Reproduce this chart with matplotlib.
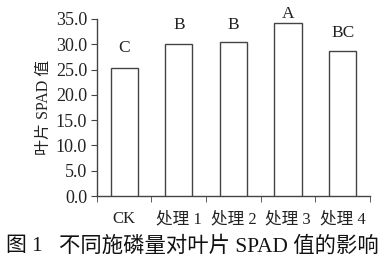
import matplotlib.pyplot as plt
import numpy as np

FONTS = ["Liberation Serif", "Noto Sans CJK SC"]
plt.rcParams["font.family"] = FONTS

categories = ["CK", "处理 1", "处理 2", "处理 3", "处理 4"]
spad = [25.2, 30.0, 30.4, 34.2, 28.6]
letters = ["C", "B", "B", "A", "BC"]
letter_y = [29.2, 33.8, 33.8, 36.0, 32.2]

fig = plt.figure(figsize=(3.89, 2.66), dpi=100)
ax = fig.add_axes([0.249, 0.263, 0.702, 0.666])

x = np.arange(len(categories))
ax.bar(x, spad, width=0.5, color="white", edgecolor="#444444", linewidth=1.0, zorder=3)

for xi, lab, ly in zip(x, letters, letter_y):
    ax.text(xi, ly, lab, ha="center", va="center", fontsize=12.5, color="#222222",
            clip_on=False)

ax.set_xlim(-0.5, len(categories) - 0.5)
ax.set_ylim(0, 35)
ax.set_yticks(np.arange(0, 36, 5))
ax.set_yticklabels([f"{v:.1f}" for v in np.arange(0, 36, 5)], fontsize=13,
                   color="#222222")

# labels centred under the bars, ticks at the category boundaries
ax.set_xticks(x)
ax.set_xticklabels(categories, fontsize=12, color="#222222")
ax.tick_params(axis="x", which="major", length=0, pad=11)
ax.set_xticks(np.arange(-0.5, len(categories), 1), minor=True)
ax.tick_params(axis="x", which="minor", length=4, direction="out", color="#444444")
ax.tick_params(axis="y", length=4, direction="out", color="#444444", pad=3)

for s in ["top", "right"]:
    ax.spines[s].set_visible(False)
for s in ["left", "bottom"]:
    ax.spines[s].set_color("#444444")
    ax.spines[s].set_linewidth(1.0)

ax.set_ylabel("叶片 SPAD 值", fontsize=11.5, labelpad=3, color="#222222")

fig.text(0.015, 0.072, "图 1", fontsize=15, ha="left", va="center", color="#111111")
fig.text(0.152, 0.072, "不同施磷量对叶片 SPAD 值的影响", fontsize=15.4,
         ha="left", va="center", color="#111111")

fig.savefig("out.png", dpi=100)
